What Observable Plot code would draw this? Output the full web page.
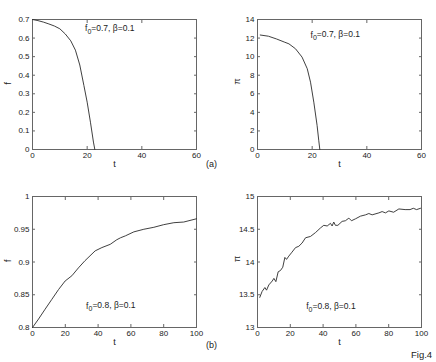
<!DOCTYPE html>
<html>
<head>
<meta charset="utf-8">
<script src="https://cdn.jsdelivr.net/npm/d3@7"></script>
<script src="https://cdn.jsdelivr.net/npm/@observablehq/plot@0.6"></script>
<style>
  html, body { margin: 0; padding: 0; background: #fff; }
  #wrap { position: relative; width: 436px; height: 362px; font-family: "Liberation Sans", Arial, Helvetica, sans-serif; }
  .panel { position: absolute; width: 218px; height: 181px; }
  .lab { position: absolute; color: #222; line-height: 1; white-space: nowrap; }
</style>
</head>
<body>
<div id="wrap"></div>
<script>
// ---- Data ----
// (a) f0 = 0.7, beta = 0.1
const tA_f = [0, 2, 4, 6, 8, 10, 12, 14, 15.7, 17.3, 18.8, 20, 21.2, 22.3, 22.8];
const fA   = [0.700, 0.694, 0.686, 0.676, 0.665, 0.650, 0.622, 0.585, 0.535, 0.455, 0.345, 0.255, 0.147, 0.04, 0];
const tA_p = [1, 4, 7, 10, 11.5, 13.9, 16.3, 18.2, 19.4, 20.6, 21.8, 22.4, 22.8];
const piA  = [12.33, 12.2, 11.9, 11.55, 11.38, 10.85, 9.95, 8.7, 7.25, 5.1, 2.6, 1.0, 0];
// (b) f0 = 0.8, beta = 0.1
const tB_f = [0, 3.7, 7.7, 11.8, 15.9, 19.9, 24, 28, 32, 38.2, 42.3, 47.4, 51.4, 53.7, 56.7, 61.8, 67.9, 74, 80, 86.2, 92.2, 100];
const fB   = [0.800, 0.813, 0.828, 0.843, 0.858, 0.871, 0.879, 0.891, 0.902, 0.917, 0.922, 0.927, 0.934, 0.937, 0.940, 0.946, 0.950, 0.953, 0.957, 0.960, 0.961, 0.966];
const tB_p = [1.4, 2.8, 4.5, 5.5, 6.9, 9, 10, 11.2, 12.6, 14, 15.4, 16.7, 17.7, 19.1, 20.7, 23.2, 25.2, 27.2, 29.3, 32.3, 35.4, 38.4, 40.4, 42.5, 44.5, 45.5, 46.5, 47.5, 49, 51.6, 53.6, 55.7, 57.3, 59.8, 62.8, 65.9, 67.9, 69.9, 74, 76, 78, 80.1, 83, 86.2, 90, 93, 95, 97, 99.4];
const piB  = [13.46, 13.55, 13.61, 13.57, 13.65, 13.71, 13.75, 13.70, 13.85, 13.87, 13.92, 14.07, 14.04, 14.09, 14.14, 14.22, 14.24, 14.29, 14.37, 14.39, 14.45, 14.52, 14.56, 14.55, 14.59, 14.55, 14.61, 14.56, 14.56, 14.62, 14.63, 14.67, 14.63, 14.66, 14.70, 14.72, 14.74, 14.72, 14.75, 14.77, 14.75, 14.78, 14.76, 14.81, 14.80, 14.80, 14.82, 14.80, 14.82];

// Tick values
const xTicksA = [0, 20, 40, 60];
const xTicksB = [0, 20, 40, 60, 80, 100];
const yTicksFA = [0, 0.1, 0.2, 0.3, 0.4, 0.5, 0.6, 0.7];
const yTicksPA = [0, 2, 4, 6, 8, 10, 12, 14];
const yTicksFB = [0.8, 0.85, 0.9, 0.95, 1];
const yTicksPB = [13, 13.5, 14, 14.5, 15];

// Text
const annA = ["f", "0", "=0.7, \u03b2=0.1"];
const annB = ["f", "0", "=0.8, \u03b2=0.1"];
const xLabel = "t";
const yLabelF = "f";
const yLabelP = "\u03c0";
const partLabels = ["(a)", "(b)"];
const figLabel = "Fig.4";

const fmt = d => String(+(+d).toFixed(2));
const FONT = "\"Liberation Sans\", Arial, Helvetica, sans-serif";

function panel({left, top, ml, mr, mt, mb, xDom, xTicks, yDom, yTicks, xs, ys, yLab, ann, annX, annY}) {
  const data = xs.map((x, i) => ({x, y: ys[i]}));
  const chart = Plot.plot({
    width: 218, height: 181,
    marginLeft: ml, marginRight: mr, marginTop: mt, marginBottom: mb,
    style: {fontFamily: FONT, fontSize: "8px", background: "transparent", color: "#222"},
    x: {domain: xDom},
    y: {domain: yDom},
    marks: [
      Plot.frame({stroke: "#666", strokeWidth: 1}),
      Plot.axisX(xTicks, {anchor: "bottom", tickSize: -3, tickPadding: 6, tickFormat: fmt, label: null, stroke: "#666"}),
      Plot.axisX(xTicks, {anchor: "top", tickSize: -3, tickFormat: () => "", label: null, stroke: "#666"}),
      Plot.axisY(yTicks, {anchor: "left", tickSize: -3, tickPadding: 6, tickFormat: fmt, label: null, stroke: "#666"}),
      Plot.axisY(yTicks, {anchor: "right", tickSize: -3, tickFormat: () => "", label: null, stroke: "#666"}),
      Plot.line(data, {x: "x", y: "y", stroke: "#2a2a2a", strokeWidth: 0.9}),
      Plot.text([xLabel], {frameAnchor: "bottom", dy: 17, text: d => d, fontSize: 9, fill: "#222"}),
      Plot.text([yLab], {frameAnchor: "left", dx: ml === 32 ? -24 : -20, rotate: -90, text: d => d, fontSize: 9, fill: "#222"})
    ]
  });
  const sx = chart.scale("x"), sy = chart.scale("y");
  const t = d3.select(chart).append("text")
    .attr("x", sx.apply(annX)).attr("y", sy.apply(annY))
    .attr("text-anchor", "start")
    .attr("font-size", 8.5).attr("fill", "#222").attr("font-family", FONT);
  t.append("tspan").text(ann[0]);
  t.append("tspan").attr("dy", "0.35em").attr("font-size", 7).text(ann[1]);
  t.append("tspan").attr("dy", "-0.35em").text(ann[2]);
  const div = document.createElement("div");
  div.className = "panel";
  div.style.left = left + "px";
  div.style.top = top + "px";
  div.appendChild(chart);
  document.getElementById("wrap").appendChild(div);
}

panel({left: 0, top: 0, ml: 32, mr: 22, mt: 19, mb: 32, xDom: [0, 60], xTicks: xTicksA, yDom: [0, 0.7], yTicks: yTicksFA, xs: tA_f, ys: fA, yLab: yLabelF, ann: annA, annX: 19.4, annY: 0.635});
panel({left: 218, top: 0, ml: 39, mr: 15, mt: 19, mb: 32, xDom: [0, 60], xTicks: xTicksA, yDom: [0, 14], yTicks: yTicksPA, xs: tA_p, ys: piA, yLab: yLabelP, ann: annA, annX: 19.6, annY: 12.0});
panel({left: 0, top: 181, ml: 32, mr: 22, mt: 15, mb: 35, xDom: [0, 100], xTicks: xTicksB, yDom: [0.8, 1], yTicks: yTicksFB, xs: tB_f, ys: fB, yLab: yLabelF, ann: annB, annX: 33, annY: 0.8275});
panel({left: 218, top: 181, ml: 39, mr: 15, mt: 15, mb: 35, xDom: [0, 100], xTicks: xTicksB, yDom: [13, 15], yTicks: yTicksPB, xs: tB_p, ys: piB, yLab: yLabelP, ann: annB, annX: 30, annY: 13.27});

function addLabel(text, left, top, size) {
  const d = document.createElement("div");
  d.className = "lab";
  d.textContent = text;
  d.style.left = left + "px";
  d.style.top = top + "px";
  d.style.fontSize = size + "px";
  document.getElementById("wrap").appendChild(d);
}
addLabel(partLabels[0], 206, 160, 9);
addLabel(partLabels[1], 206, 341, 9);
addLabel(figLabel, 411, 350, 9.5);
</script>
</body>
</html>
